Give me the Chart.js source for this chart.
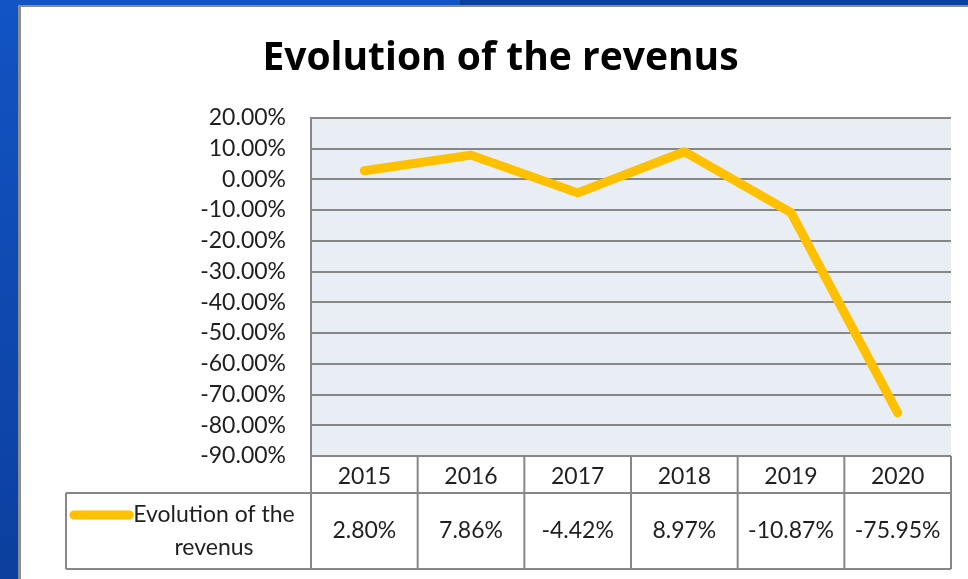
<!DOCTYPE html>
<html>
<head>
<meta charset="utf-8">
<script src="https://cdn.jsdelivr.net/npm/chart.js@4/dist/chart.umd.min.js"></script>
<style>
  html,body{margin:0;padding:0;}
  body{width:968px;height:579px;overflow:hidden;position:relative;background:linear-gradient(#1254c4,#0c3f9e);}
  #topdark{position:absolute;left:460px;top:0;width:508px;height:5px;background:#0b3f9f;}
  #panel{position:absolute;left:18px;top:5px;width:950px;height:574px;background:#fff;border-left:3px solid #8c8c8c;border-top:2px solid #8c8c8c;box-sizing:border-box;}
  #c{position:absolute;left:0;top:0;}
</style>
</head>
<body>
<div id="topdark"></div>
<div id="panel"></div>
<canvas id="c" width="968" height="579"></canvas>
<script>
const categories = ['2015', '2016', '2017', '2018', '2019', '2020'];
const seriesName = 'Evolution of the revenus';
const revenueEvolution = [2.80, 7.86, -4.42, 8.97, -10.87, -75.95];
const yMin = -90, yMax = 20, yStep = 10;

const FONT = 'Lato';
const TITLE_FONT = 'Open Sans';
const GRID = '#878787';
const LINE = '#FFC000';
const PLOTBG = '#E9EDF4';
const TXT = '#1f1f1f';

const fmt = v => v.toFixed(2) + '%';

const tablePlugin = {
  id: 'tablePlugin',
  beforeDraw(chart) {
    const a = chart.chartArea, ctx = chart.ctx;
    ctx.save();
    ctx.fillStyle = PLOTBG;
    ctx.fillRect(a.left, a.top, a.right - a.left, a.bottom - a.top);
    ctx.restore();
  },
  afterDraw(chart) {
    const ctx = chart.ctx, xs = chart.scales.x, a = chart.chartArea;
    const n = categories.length;
    const colW = (xs.right - xs.left) / n;
    const top = a.bottom, mid = a.bottom + 37, bot = xs.bottom;
    const legLeft = 66;
    ctx.save();
    ctx.strokeStyle = GRID;
    ctx.lineWidth = 2;
    ctx.beginPath();
    ctx.moveTo(legLeft, mid); ctx.lineTo(xs.right, mid);
    ctx.moveTo(legLeft, bot); ctx.lineTo(xs.right, bot);
    for (let i = 0; i <= n; i++) {
      const x = i < n ? xs.getPixelForValue(i) - colW / 2 : xs.getPixelForValue(n - 1) + colW / 2;
      ctx.moveTo(x, top); ctx.lineTo(x, bot);
    }
    ctx.moveTo(legLeft, mid); ctx.lineTo(legLeft, bot);
    ctx.stroke();

    ctx.fillStyle = TXT;
    ctx.font = `23px ${FONT}`;
    ctx.textAlign = 'center';
    ctx.textBaseline = 'middle';
    const rowMid = (mid + bot) / 2;
    revenueEvolution.forEach((v, i) => {
      ctx.fillText(fmt(v), xs.getPixelForValue(i), rowMid);
    });

    const ds = chart.data.datasets[0];
    const words = ds.label.split(' ');
    const l1 = words.slice(0, 3).join(' '), l2 = words.slice(3).join(' ');
    const textCx = 214;
    ctx.fillText(l1, textCx, rowMid - 16);
    ctx.fillText(l2, textCx, rowMid + 17);
    const w1 = ctx.measureText(l1).width;
    ctx.strokeStyle = ds.borderColor;
    ctx.lineWidth = 9;
    ctx.lineCap = 'round';
    ctx.beginPath();
    ctx.moveTo(74, rowMid - 16);
    ctx.lineTo(textCx - w1 / 2 - 4, rowMid - 16);
    ctx.stroke();
    ctx.restore();
  }
};

new Chart(document.getElementById('c'), {
  type: 'line',
  data: {
    labels: categories,
    datasets: [{
      label: seriesName,
      data: revenueEvolution,
      borderColor: LINE,
      backgroundColor: LINE,
      borderWidth: 9,
      borderCapStyle: 'round',
      borderJoinStyle: 'round',
      pointRadius: 0,
      tension: 0
    }]
  },
  options: {
    responsive: false,
    animation: false,
    layout: { padding: { left: 50, right: 17, top: 0, bottom: 10 } },
    plugins: {
      legend: { display: false },
      tooltip: { enabled: false },
      title: {
        display: true,
        text: 'Evolution of the revenus',
        color: '#000',
        font: { family: TITLE_FONT, size: 39, weight: 'bold' },
        padding: { top: 35, bottom: 36 }
      }
    },
    scales: {
      x: {
        offset: true,
        afterFit: s => { s.height = 113; },
        grid: { display: false },
        border: { display: false },
        ticks: { color: TXT, font: { family: FONT, size: 23 }, padding: -1, maxRotation: 0 }
      },
      y: {
        min: yMin, max: yMax,
        afterFit: s => { s.width = 261; },
        grid: { color: GRID, lineWidth: 2, drawTicks: false },
        border: { display: true, color: GRID, width: 2 },
        ticks: { stepSize: yStep, color: TXT, padding: 25, font: { family: FONT, size: 23 }, callback: v => fmt(v) }
      }
    }
  },
  plugins: [tablePlugin]
});
</script>
</body>
</html>
